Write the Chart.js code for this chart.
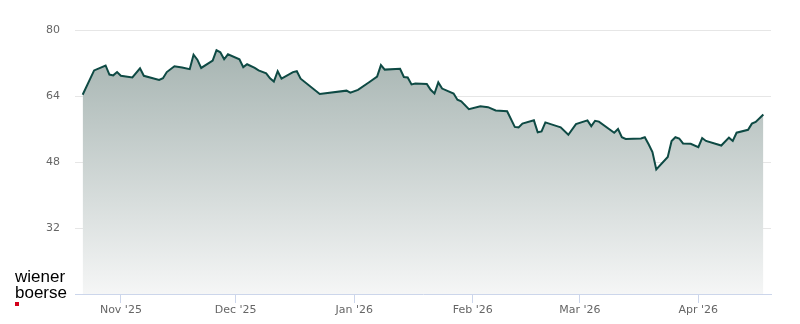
<!DOCTYPE html>
<html>
<head>
<meta charset="utf-8">
<script src="https://cdn.jsdelivr.net/npm/chart.js@4/dist/chart.umd.min.js"></script>
<style>
  html, body { margin: 0; padding: 0; background: #fff; }
  #wrap { position: relative; width: 800px; height: 324px; }
  .logo { position: absolute; left: 15px; top: 269px; font: 17px 'Liberation Sans', Arial, sans-serif; line-height: 15.5px; color: #000; }
  .logo-dot { position: absolute; left: 15px; top: 302px; width: 4px; height: 4px; background: #d3001b; }
</style>
</head>
<body>
<div id="wrap">
  <canvas id="chart" width="800" height="324"></canvas>
  <div class="logo">wiener<br>boerse</div>
  <div class="logo-dot"></div>
</div>
<script>
// closing prices
const dates = [
  '2025-10-22', '2025-10-25', '2025-10-28', '2025-10-29', '2025-10-30', '2025-10-31',
  '2025-11-01', '2025-11-04', '2025-11-06', '2025-11-07', '2025-11-11', '2025-11-12',
  '2025-11-13', '2025-11-15', '2025-11-17', '2025-11-19', '2025-11-20', '2025-11-21',
  '2025-11-22', '2025-11-25', '2025-11-26', '2025-11-27', '2025-11-28', '2025-11-29',
  '2025-12-02', '2025-12-03', '2025-12-04', '2025-12-06', '2025-12-07', '2025-12-09',
  '2025-12-10', '2025-12-11', '2025-12-12', '2025-12-13', '2025-12-16', '2025-12-17',
  '2025-12-18', '2025-12-23', '2025-12-30', '2025-12-31', '2026-01-02', '2026-01-05',
  '2026-01-07', '2026-01-08', '2026-01-09', '2026-01-13', '2026-01-14', '2026-01-15',
  '2026-01-16', '2026-01-17', '2026-01-20', '2026-01-21', '2026-01-22', '2026-01-23',
  '2026-01-24', '2026-01-27', '2026-01-28', '2026-01-29', '2026-01-31', '2026-02-03',
  '2026-02-05', '2026-02-07', '2026-02-10', '2026-02-12', '2026-02-13', '2026-02-14',
  '2026-02-17', '2026-02-18', '2026-02-19', '2026-02-20', '2026-02-23', '2026-02-24',
  '2026-02-26', '2026-02-28', '2026-03-03', '2026-03-04', '2026-03-05', '2026-03-06',
  '2026-03-10', '2026-03-11', '2026-03-12', '2026-03-13', '2026-03-17', '2026-03-18',
  '2026-03-19', '2026-03-20', '2026-03-21', '2026-03-24', '2026-03-25', '2026-03-26',
  '2026-03-27', '2026-03-28', '2026-03-30', '2026-04-01', '2026-04-02', '2026-04-03',
  '2026-04-07', '2026-04-09', '2026-04-10', '2026-04-11', '2026-04-14', '2026-04-15',
  '2026-04-16', '2026-04-18'
];
const prices = [
  64.3, 70.2, 71.4, 69.2, 69.0, 69.8,
  68.9, 68.5, 70.7, 68.9, 67.9, 68.3,
  69.8, 71.2, 70.9, 70.5, 74.0, 72.8,
  70.8, 72.6, 75.1, 74.6, 72.9, 74.1,
  72.9, 71.0, 71.7, 70.8, 70.2, 69.5,
  68.3, 67.5, 70.0, 68.2, 69.8, 70.0,
  68.2, 64.5, 65.3, 64.8, 65.5, 67.4,
  68.7, 71.5, 70.4, 70.6, 68.6, 68.5,
  66.8, 67.0, 66.9, 65.5, 64.6, 67.3,
  65.8, 64.6, 63.1, 62.7, 60.8, 61.5,
  61.3, 60.5, 60.3, 56.5, 56.4, 57.3,
  58.1, 55.2, 55.4, 57.6, 56.7, 56.4,
  54.6, 57.2, 58.1, 56.7, 58.0, 57.8,
  55.1, 56.0, 54.0, 53.6, 53.7, 54.0,
  52.3, 50.4, 46.2, 49.2, 53.1, 54.0,
  53.7, 52.5, 52.4, 51.6, 53.8, 53.1,
  52.0, 53.9, 53.1, 55.1, 55.8, 57.3,
  57.7, 59.5
];

const monthTicks = ['2025-11-01', '2025-12-01', '2026-01-01', '2026-02-01', '2026-03-01', '2026-04-01'];
const monthLabels = ["Nov '25", "Dec '25", "Jan '26", "Feb '26", "Mar '26", "Apr '26"];
const yTicks = [32, 48, 64, 80];
const xStart = '2025-10-20';
const xEnd = '2026-04-20';

// days since 1 Nov 2025, so a plain linear scale can act as a time axis
const dayNum = (s) => {
    const [y, m, d] = s.split('-').map(Number);
    return (Date.UTC(y, m - 1, d) - Date.UTC(2025, 10, 1)) / 86400000;
};

const points = dates.map((d, i) => ({x: dayNum(d), y: prices[i]}));
const labelFont = {family: "'DejaVu Sans', sans-serif", size: 11};

const areaFill = (c) => {
    const {ctx, chartArea} = c.chart;
    if (!chartArea) return 'rgba(0,0,0,0)';
    const g = ctx.createLinearGradient(0, chartArea.top, 0, chartArea.bottom);
    g.addColorStop(0, 'rgb(160,175,172)');
    g.addColorStop(1, 'rgb(245,246,246)');
    return g;
};

new Chart(document.getElementById('chart'), {
    type: 'line',
    data: {
        datasets: [{
            data: points,
            borderColor: '#0e4a44',
            borderWidth: 2,
            pointRadius: 0,
            tension: 0,
            fill: 'start',
            backgroundColor: areaFill
        }]
    },
    options: {
        responsive: false,
        animation: false,
        layout: {padding: {top: 30, right: 29, left: 0, bottom: 0}},
        plugins: {legend: {display: false}, tooltip: {enabled: false}},
        scales: {
            x: {
                type: 'linear',
                min: dayNum(xStart),
                max: dayNum(xEnd),
                afterBuildTicks: (s) => { s.ticks = monthTicks.map(m => ({value: dayNum(m)})); },
                afterFit: (s) => { s.height = 30; },
                ticks: {
                    callback: (v, i) => monthLabels[i],
                    color: '#666666',
                    font: labelFont,
                    padding: 1,
                    maxRotation: 0,
                    autoSkip: false
                },
                grid: {drawOnChartArea: false, tickLength: 9, color: '#ccd6eb'},
                border: {color: '#ccd6eb'}
            },
            y: {
                min: 16,
                max: 80,
                afterBuildTicks: (s) => { s.ticks = yTicks.map(v => ({value: v})); },
                afterFit: (s) => { s.width = 75; },
                ticks: {color: '#666666', font: labelFont, padding: 15},
                grid: {color: '#e6e6e6', drawTicks: false},
                border: {display: false}
            }
        }
    }
});
</script>
</body>
</html>
